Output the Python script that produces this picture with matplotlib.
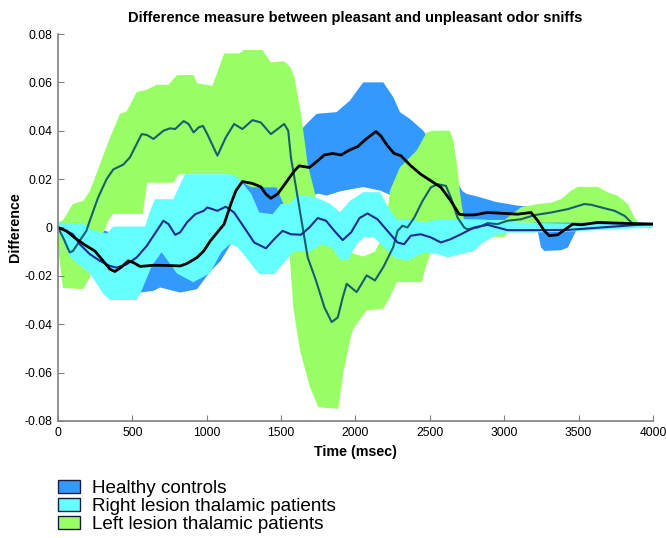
import numpy as np
import matplotlib
matplotlib.use("Agg")
import matplotlib.pyplot as plt
from matplotlib.patches import Patch

plt.rcParams['font.family'] = ['Liberation Sans', 'DejaVu Sans']

# group labels and colours
groups = ['Healthy controls', 'Right lesion thalamic patients', 'Left lesion thalamic patients']
band_colors = ['#3399ff', '#66ffff', '#99ff66']

# healthy controls band (ms, difference)
hc_up_t = [0, 150, 300, 450, 700, 900, 1000, 1100, 1250, 1450, 1600, 1672, 1739, 1873, 1963, 2052,
           2187, 2254, 2299, 2366, 2456, 2550, 2650, 2720, 2747, 2837, 2949, 3084, 3195, 3250, 3400,
           3600, 4000]
hc_up = [0.002, 0.001, -0.001, -0.004, -0.006, -0.004, 0.0, 0.008, 0.02, 0.03, 0.038, 0.0429, 0.047,
         0.0477, 0.0525, 0.060, 0.060, 0.0539, 0.0477, 0.0449, 0.040, 0.032, 0.022, 0.015, 0.0139,
         0.0125, 0.0105, 0.0091, 0.0084, 0.005, 0.003, 0.002, 0.002]
hc_lo_t = [0, 200, 400, 552, 642, 687, 732, 822, 935, 1027, 1094, 1162, 1250, 1400, 1550, 1650, 1750,
           1806, 1900, 1985, 2052, 2165, 2250, 2400, 2600, 2750, 3000, 3200, 3225, 3247, 3270, 3382,
           3427, 3472, 3494, 4000]
hc_lo = [-0.002, -0.012, -0.022, -0.0269, -0.0262, -0.0248, -0.0255, -0.0269, -0.0255, -0.018, -0.0138,
         -0.0069, -0.003, 0.0, 0.006, 0.012, 0.014, 0.0132, 0.015, 0.016, 0.0167, 0.0153, 0.013, 0.01,
         0.006, 0.003, 0.003, 0.002, -0.0014, -0.0083, -0.0097, -0.0094, -0.0083, -0.0028, 0.0, 0.0]

# right lesion band
rl_up_t = [0, 170, 226, 280, 330, 372, 585, 615, 652, 776, 815, 854, 1160, 1210, 1300, 1353, 1443,
           1499, 1560, 1605, 1675, 1750, 1829, 1896, 1963, 2052, 2165, 2232, 2283, 2372, 2462, 2552,
           2798, 2950, 3100, 3500, 4000]
rl_up = [0.002, 0.0017, -0.001, -0.002, -0.0025, 0.0004, 0.0004, 0.006, 0.0117, 0.0117, 0.017, 0.022,
         0.022, 0.0207, 0.0138, 0.0062, 0.0055, 0.0097, 0.0098, 0.0132, 0.0132, 0.012, 0.0098, 0.0063,
         0.011, 0.0146, 0.0146, 0.0072, 0.003, 0.0034, 0.0021, 0.0034, 0.0034, 0.003, 0.002, 0.0015,
         0.001]
rl_lo_t = [0, 81, 215, 305, 350, 530, 563, 630, 697, 800, 910, 1020, 1100, 1160, 1210, 1300, 1353,
           1454, 1510, 1589, 1694, 1770, 1840, 1900, 1950, 2007, 2060, 2126, 2193, 2260, 2350, 2395,
           2462, 2552, 2619, 2709, 2798, 2843, 2933, 3022, 3200, 3500, 4000]
rl_lo = [-0.001, -0.0123, -0.019, -0.0274, -0.030, -0.030, -0.026, -0.016, -0.0102, -0.019, -0.0226,
         -0.019, -0.010, -0.0067, -0.0083, -0.0152, -0.0193, -0.0193, -0.0152, -0.0097, -0.010, -0.0069,
         -0.0083, -0.0133, -0.0135, -0.0069, -0.004, -0.0041, -0.0083, -0.0124, -0.0138, -0.0124,
         -0.0103, -0.011, -0.0124, -0.011, -0.0097, -0.0069, -0.0034, -0.0021, -0.0021, -0.0015, 0.0]

# left lesion band
ll_up_t = [0, 34, 100, 170, 214, 282, 349, 417, 462, 529, 597, 664, 743, 800, 912, 935, 1038, 1083,
           1117, 1218, 1252, 1375, 1431, 1521, 1566, 1590, 1634, 1679, 1735, 1791, 1850, 1950, 2050,
           2130, 2200, 2232, 2299, 2411, 2479, 2523, 2635, 2658, 2680, 2703, 2730, 2800, 3000, 3112,
           3225, 3315, 3382, 3449, 3494, 3629, 3697, 3764, 3831, 3876, 3910, 4000]
ll_up = [0.002, 0.003, 0.0097, 0.011, 0.015, 0.026, 0.037, 0.047, 0.048, 0.056, 0.057, 0.059, 0.059,
         0.063, 0.063, 0.0596, 0.0586, 0.066, 0.072, 0.072, 0.0734, 0.0734, 0.0683, 0.0687, 0.066, 0.062,
         0.047, 0.026, 0.0124, 0.004, -0.005, -0.010, -0.012, -0.010, -0.002, 0.0153, 0.0249, 0.0318,
         0.0394, 0.040, 0.040, 0.036, 0.027, 0.014, 0.003, 0.002, 0.003, 0.0083, 0.0097, 0.0103, 0.0117,
         0.0152, 0.0168, 0.0168, 0.0145, 0.0131, 0.0097, 0.0041, 0.0014, 0.002]
ll_lo_t = [0, 34, 169, 214, 259, 293, 340, 372, 570, 600, 776, 810, 854, 1140, 1200, 1300, 1470, 1500,
           1550, 1560, 1582, 1627, 1694, 1750, 1884, 1918, 1963, 1985, 2075, 2187, 2232, 2277, 2445,
           2479, 2512, 2600, 2750, 3000, 3050, 3100, 3850, 4000]
ll_lo = [-0.008, -0.025, -0.0255, -0.0207, -0.0097, -0.004, 0.003, 0.0056, 0.0056, 0.0185, 0.0185,
         0.022, 0.022, 0.022, 0.020, 0.0166, 0.0166, 0.012, 0.005, -0.0136, -0.033, -0.0508, -0.066,
         -0.0743, -0.075, -0.060, -0.0467, -0.0419, -0.0343, -0.0336, -0.0288, -0.0226, -0.0226, -0.015,
         -0.0095, -0.006, -0.004, -0.004, 0.0, 0.002, 0.002, 0.001]

# mean curves (values in units of 0.001)
hc_t = [0, 56, 124, 191, 248, 304, 349, 383, 428, 473, 507, 552, 642, 732, 822, 867, 935, 980, 1025,
        1061, 1117, 1162, 1196, 1240, 1308, 1364, 1398, 1431, 1476, 1533, 1589, 1622, 1690, 1746, 1791,
        1847, 1903, 1959, 2016, 2072, 2137, 2170, 2215, 2260, 2305, 2372, 2439, 2507, 2574, 2641, 2697,
        2731, 2798, 2888, 2978, 3090, 3180, 3225, 3270, 3303, 3360, 3427, 3461, 3517, 3629, 3764, 4000]
hc_mean = [0, -1.4, -4.8, -7.6, -9.7, -13.8, -17.2, -18.2, -16.3, -13.8, -14.5, -16.1, -15.6, -15.7,
           -15.9, -14.9, -12.4, -9.7, -5.5, -2.8, 1.4, 9.7, 15.2, 19, 18.2, 16.8, 13.8, 12.1, 13.8, 18.6,
           23.4, 25.5, 24.8, 27.6, 30, 30.6, 30, 32, 33.5, 36.6, 39.7, 37.9, 33.8, 30.6, 29.7, 25.5, 22,
           19.3, 16.6, 11, 5.5, 5.2, 5.2, 6.2, 5.9, 5.5, 6.2, 2.8, -1.4, -3.4, -3, 0, 1.4, 1.1, 2.1, 1.8,
           1.4]
rl_t = [0, 56, 101, 146, 214, 282, 349, 394, 462, 529, 597, 664, 709, 743, 788, 822, 867, 923, 980,
        1004, 1072, 1128, 1184, 1252, 1319, 1398, 1454, 1510, 1566, 1634, 1690, 1746, 1802, 1858, 1914,
        1971, 2027, 2081, 2148, 2215, 2283, 2327, 2372, 2439, 2507, 2574, 2641, 2709, 2798, 2888, 2955,
        3022, 3202, 3427, 3652, 3876, 4000]
rl_mean = [0, -1.4, -2.8, -6.9, -11, -13.8, -15.9, -16.6, -15.2, -12.4, -7.6, -1.4, 2.8, 1.4, -3, -2,
           2.1, 5.5, 6.9, 8.3, 6.9, 8.6, 6.2, 0, -6.2, -8.6, -4.8, -1.4, -2.8, -3, 0, 3.9, 2.8, -1.4,
           -5.2, -2, 3.9, 5.8, 3.4, -1.4, -6.2, -6.9, -3.4, -2.8, -4.1, -6.2, -4.8, -2.8, 0, 1.1, 0,
           -1.1, -1.1, -1, 0, 1, 1.4]
ll_t = [0, 34, 79, 101, 146, 191, 214, 270, 327, 372, 439, 484, 529, 563, 597, 642, 709, 754, 788, 845,
        878, 912, 946, 975, 1004, 1072, 1128, 1184, 1240, 1308, 1364, 1431, 1476, 1521, 1548, 1566, 1600,
        1634, 1679, 1735, 1791, 1840, 1881, 1914, 1941, 2008, 2075, 2131, 2187, 2254, 2283, 2316, 2350,
        2395, 2451, 2507, 2552, 2608, 2641, 2686, 2731, 2753, 2821, 2888, 2955, 3022, 3112, 3202, 3315,
        3427, 3539, 3584, 3652, 3742, 3809, 3854, 3876, 4000]
ll_mean = [0, -4.1, -10.3, -9.7, -5.5, -1.4, 2.8, 12.4, 20, 24, 26, 29, 34.5, 38.6, 38.3, 36.6, 40, 41,
           40.7, 44, 42.8, 39.3, 41.4, 42, 38.6, 29.7, 37.2, 42.8, 40.7, 44.4, 43.4, 38.6, 40.7, 42.8, 40,
           29, 16.6, 4.1, -12.4, -22, -33, -39.1, -37.2, -29, -23.3, -26.7, -19.8, -21.9, -16.4, -8.1,
           -1.4, 0.7, 0, 4.1, 11, 16.6, 17.9, 17.2, 12.4, 4.1, 0, -0.7, 0, 1.8, 1.4, 2.8, 3.4, 5.1, 6.2,
           7.6, 9.7, 9.4, 8.3, 6.9, 4.8, 2.1, 1.4, 1.4]

fig = plt.figure(figsize=(6.66, 5.38), dpi=100)
ax = fig.add_axes([0.087, 0.2175, 0.8935, 0.7193])


def band(t_up, up, t_lo, lo, color):
    xs = np.concatenate([t_up, t_lo[::-1]])
    ys = np.concatenate([up, lo[::-1]])
    ax.fill(xs, ys, color=color, lw=0)


band(hc_up_t, hc_up, hc_lo_t, hc_lo, band_colors[0])
band(ll_up_t, ll_up, ll_lo_t, ll_lo, band_colors[2])
band(rl_up_t, rl_up, rl_lo_t, rl_lo, band_colors[1])

ax.plot(ll_t, np.array(ll_mean) / 1000, color='#155f6e', lw=1.5)
ax.plot(rl_t, np.array(rl_mean) / 1000, color='#1c2a8c', lw=1.5)
ax.plot(hc_t, np.array(hc_mean) / 1000, color='black', lw=2)

ax.set_xlim(0, 4000)
ax.set_ylim(-0.08, 0.08)
ax.set_xticks(np.arange(0, 4001, 500))
ax.set_yticks([-0.08, -0.06, -0.04, -0.02, 0, 0.02, 0.04, 0.06, 0.08])
ax.set_yticklabels(['-0.08', '-0.06', '-0.04', '-0.02', '0', '0.02', '0.04', '0.06', '0.08'])
for s in ['top', 'right']:
    ax.spines[s].set_visible(False)
for s in ['left', 'bottom']:
    ax.spines[s].set_color('#808080')
    ax.spines[s].set_linewidth(1.2)
ax.tick_params(direction='in', length=4, color='#808080', labelsize=8.7, pad=4)

ax.set_title('Difference measure between pleasant and unpleasant odor sniffs',
             fontsize=10.5, fontweight='bold', pad=9)
ax.set_xlabel('Time (msec)', fontsize=10.3, fontweight='bold', labelpad=5)
ax.set_ylabel('Difference', fontsize=10.3, fontweight='bold', labelpad=2)

handles = [Patch(facecolor=c, edgecolor='#1a1a40', lw=1) for c in band_colors]
fig.legend(handles, groups, loc='upper left', bbox_to_anchor=(0.087, 0.107), frameon=False,
           fontsize=13.6, handlelength=1.15, handleheight=0.65, handletextpad=0.65, labelspacing=0.05,
           borderaxespad=0, borderpad=0)

fig.savefig('out.png', dpi=100)
